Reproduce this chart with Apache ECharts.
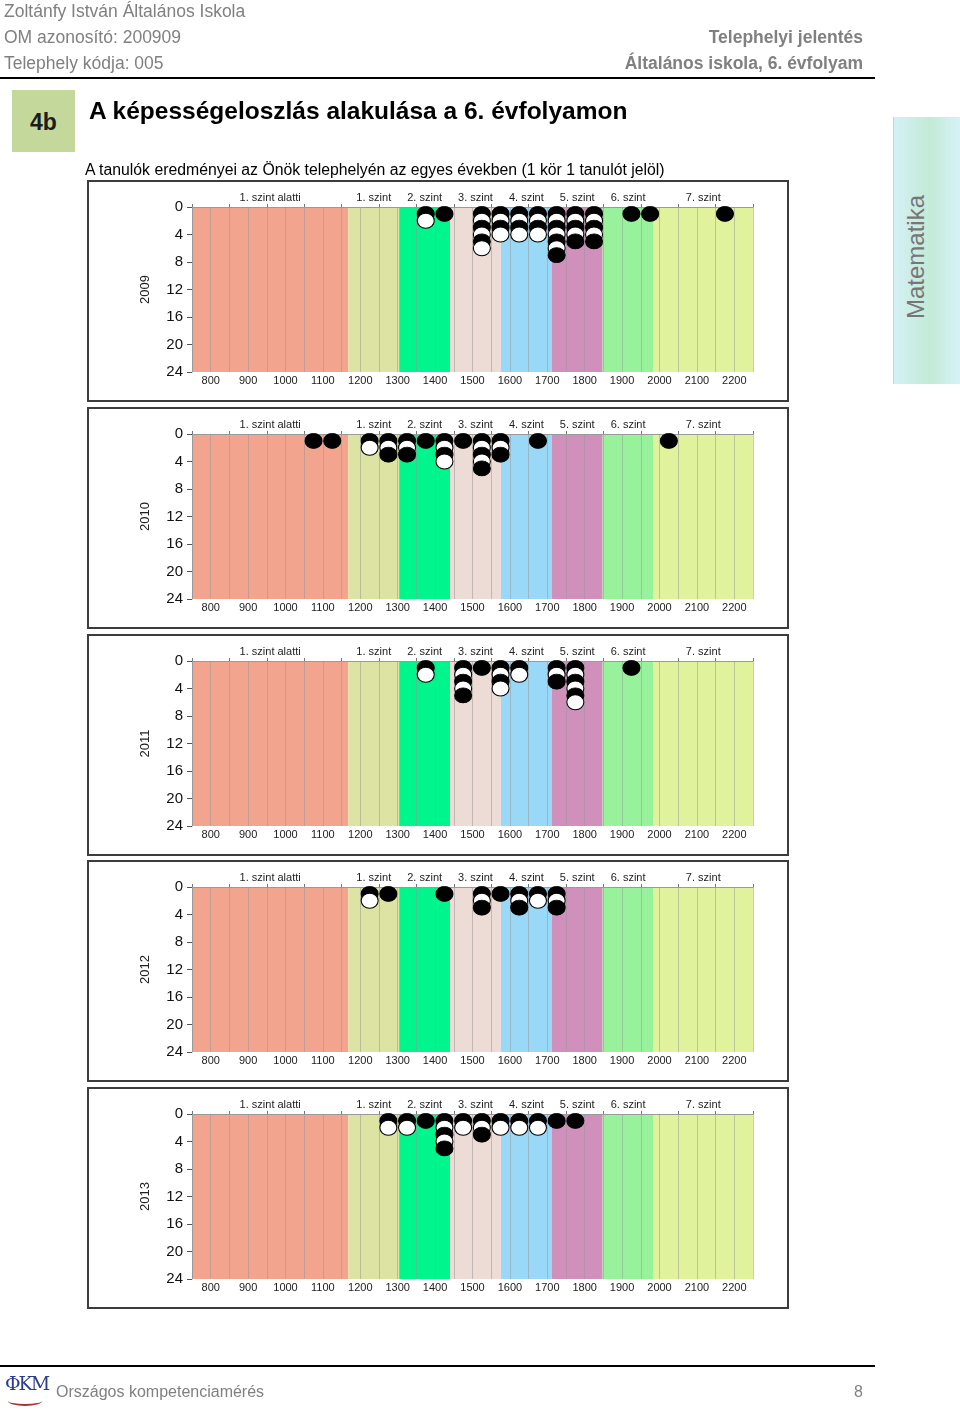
<!DOCTYPE html>
<html>
<head>
<meta charset="utf-8">
<script src="https://cdn.jsdelivr.net/npm/echarts/dist/echarts.min.js"></script>
<style>
  html, body { margin: 0; padding: 0; background: #fff; }
  body { width: 960px; height: 1409px; position: relative; overflow: hidden;
         font-family: Arial, "Liberation Sans", sans-serif; }
  #chart { position: absolute; left: 0; top: 0; width: 960px; height: 1409px; }
  .t { position: absolute; white-space: nowrap; z-index: 2; }
  .hdr { font-size: 17.5px; color: #808080; line-height: 20px; }
  .hdrb { font-size: 17.5px; color: #808080; line-height: 20px; font-weight: bold; text-align: right; }
  .rule { position: absolute; left: 0; width: 875px; height: 2px; background: #000; z-index: 2; }
  #box4b { position: absolute; left: 12px; top: 90px; width: 63px; height: 62px; background: #C4D89C;
           z-index: 1; font-weight: bold; font-size: 23px; color: #1c1c1c; text-align: center; line-height: 64px; }
  #tab { position: absolute; left: 893px; top: 117px; width: 67px; height: 267px; z-index: 1;
         background: linear-gradient(to right, #d4f0f5 0%, #c3ead7 55%, #d6f2f7 100%);
         border-left: 1px solid #b9dfc3; box-sizing: border-box; }
  #tab span { position: absolute; left: 22px; top: 140px; transform: translate(-50%, -50%) rotate(-90deg);
              font-size: 24px; color: #767676; white-space: nowrap; }
</style>
</head>
<body>
<div id="chart"></div>

<div class="t hdr" style="left:4px; top:1px;">Zoltánfy István Általános Iskola</div>
<div class="t hdr" style="left:4px; top:27px;">OM azonosító: 200909</div>
<div class="t hdr" style="left:4px; top:53px;">Telephely kódja: 005</div>
<div class="t hdrb" style="right:97px; top:27px;">Telephelyi jelentés</div>
<div class="t hdrb" style="right:97px; top:53px;">Általános iskola, 6. évfolyam</div>
<div class="rule" style="top:77px;"></div>

<div id="box4b">4b</div>
<div class="t" style="left:89px; top:96px; font-size:24.5px; font-weight:bold; color:#000; line-height:30px;">A képességeloszlás alakulása a 6. évfolyamon</div>
<div class="t" style="left:85px; top:160px; font-size:15.8px; color:#000; line-height:19px;">A tanulók eredményei az Önök telephelyén az egyes években (1 kör 1 tanulót jelöl)</div>

<div id="tab"><span>Matematika</span></div>

<div class="rule" style="top:1365px; height:2px;"></div>
<div class="t" style="left:5px; top:1372px; font-family:'DejaVu Serif', serif; font-size:19px; color:#2b3d8c; line-height:22px; letter-spacing:-2px;">ΦKM</div>
<div class="t" style="left:8px; top:1396px; width:34px; height:8px; border-bottom:2px solid #a33; border-radius:0 0 50% 50%;"></div>
<div class="t" style="left:56px; top:1382px; font-size:16px; color:#808080; line-height:20px;">Országos kompetenciamérés</div>
<div class="t" style="right:97px; top:1382px; font-size:16px; color:#808080; line-height:20px;">8</div>

<script>
// ---- Data ----
const levelBounds = [750, 1168, 1304, 1440, 1576, 1712, 1848, 1984, 2250];
const levelNames = ['1. szint alatti', '1. szint', '2. szint', '3. szint', '4. szint', '5. szint', '6. szint', '7. szint'];
const levelColors = ['#F3A48F', '#DDE3A3', '#00F58C', '#EDDBD5', '#9AD8F8', '#D190BC', '#98F29B', '#E0F29C'];
const years = ['2009', '2010', '2011', '2012', '2013'];
const yTicks = [0, 4, 8, 12, 16, 20, 24];
const xTickLabels = [800, 900, 1000, 1100, 1200, 1300, 1400, 1500, 1600, 1700, 1800, 1900, 2000, 2100, 2200];

// score bin centres and number of students (circles) in each bin
const scores2009 = [1375, 1425, 1525, 1575, 1625, 1675, 1725, 1775, 1825, 1925, 1975, 2175];
const counts2009 = [2, 1, 6, 4, 4, 4, 7, 5, 5, 1, 1, 1];
const scores2010 = [1075, 1125, 1225, 1275, 1325, 1375, 1425, 1475, 1525, 1575, 1675, 2025];
const counts2010 = [1, 1, 2, 3, 3, 1, 4, 1, 5, 3, 1, 1];
const scores2011 = [1375, 1475, 1525, 1575, 1625, 1725, 1775, 1925];
const counts2011 = [2, 5, 1, 4, 2, 3, 6, 1];
const scores2012 = [1225, 1275, 1425, 1525, 1575, 1625, 1675, 1725];
const counts2012 = [2, 1, 1, 3, 1, 3, 2, 3];
const scores2013 = [1275, 1325, 1375, 1425, 1475, 1525, 1575, 1625, 1675, 1725, 1775];
const counts2013 = [2, 2, 1, 5, 2, 3, 2, 2, 2, 1, 1];

const panels = [
  { year: years[0], scores: scores2009, counts: counts2009 },
  { year: years[1], scores: scores2010, counts: counts2010 },
  { year: years[2], scores: scores2011, counts: counts2011 },
  { year: years[3], scores: scores2012, counts: counts2012 },
  { year: years[4], scores: scores2013, counts: counts2013 }
];

// ---- Chart ----
const chart = echarts.init(document.getElementById('chart'), null, { renderer: 'canvas', width: 960, height: 1409 });
const grids = [], xAxes = [], yAxes = [], series = [], graphics = [];
const xMin = levelBounds[0], xMax = levelBounds[levelBounds.length - 1];

panels.forEach((p, i) => {
  const top = Math.round(207 + 226.75 * i);
  grids.push({ left: 192, top: top, width: 561, height: 165, show: false });

  xAxes.push({
    type: 'value', gridIndex: i, min: xMin, max: xMax, interval: 50, position: 'bottom', z: 3,
    axisLine: { show: true, lineStyle: { color: '#9a9a9a', width: 1 } },
    axisTick: { show: false },
    axisLabel: { fontSize: 11, color: '#222', margin: 3,
      formatter: v => xTickLabels.indexOf(v) >= 0 ? String(v) : '' },
    splitLine: { show: true, lineStyle: { color: 'rgba(150,150,150,0.5)', width: 1 } }
  });
  xAxes.push({
    type: 'value', gridIndex: i, min: xMin, max: xMax, interval: 100, position: 'top', z: 3,
    axisLine: { show: true, lineStyle: { color: '#9a9a9a', width: 1 } },
    axisTick: { show: true, length: 3, lineStyle: { color: '#777' } },
    axisLabel: { show: false }, splitLine: { show: false }
  });
  yAxes.push({
    type: 'value', gridIndex: i, min: yTicks[0], max: yTicks[yTicks.length - 1], interval: 4, inverse: true, z: 3,
    name: p.year, nameLocation: 'middle', nameGap: 40, nameRotate: 90,
    nameTextStyle: { fontSize: 13, color: '#222' },
    axisLine: { show: true, lineStyle: { color: '#9a9a9a' } },
    axisTick: { show: true, length: 5, lineStyle: { color: '#555' } },
    axisLabel: { fontSize: 15, color: '#111', margin: 9 },
    splitLine: { show: false }
  });

  series.push({
    type: 'scatter', xAxisIndex: 2 * i, yAxisIndex: i, data: [], z: 1, silent: true,
    markArea: {
      silent: true,
      label: { show: true, position: 'top', distance: 4, fontSize: 11, color: '#222' },
      data: levelNames.map((n, j) => [
        { name: n, xAxis: levelBounds[j], itemStyle: { color: levelColors[j], opacity: 1, borderWidth: 0 } },
        { xAxis: levelBounds[j + 1] }
      ])
    }
  });

  const dots = [];
  p.scores.forEach((s, j) => {
    for (let k = 1; k <= p.counts[j]; k++) {
      dots.push({ value: [s, k], itemStyle: { color: (k % 2 === 1) ? '#000' : '#fff' } });
    }
  });
  series.push({
    type: 'scatter', xAxisIndex: 2 * i, yAxisIndex: i, data: dots, z: 5, silent: true,
    symbol: 'circle', symbolSize: [17, 15],
    itemStyle: { borderColor: '#000', borderWidth: 1, opacity: 1 }
  });

  graphics.push({
    type: 'rect', z: 10, silent: true,
    shape: { x: 88, y: top - 26, width: 700, height: 220 },
    style: { fill: 'none', stroke: '#3c3c3c', lineWidth: 2 }
  });
});

chart.setOption({
  animation: false,
  textStyle: { fontFamily: 'Arial, "Liberation Sans", sans-serif' },
  grid: grids, xAxis: xAxes, yAxis: yAxes, series: series, graphic: graphics
});
</script>
</body>
</html>
